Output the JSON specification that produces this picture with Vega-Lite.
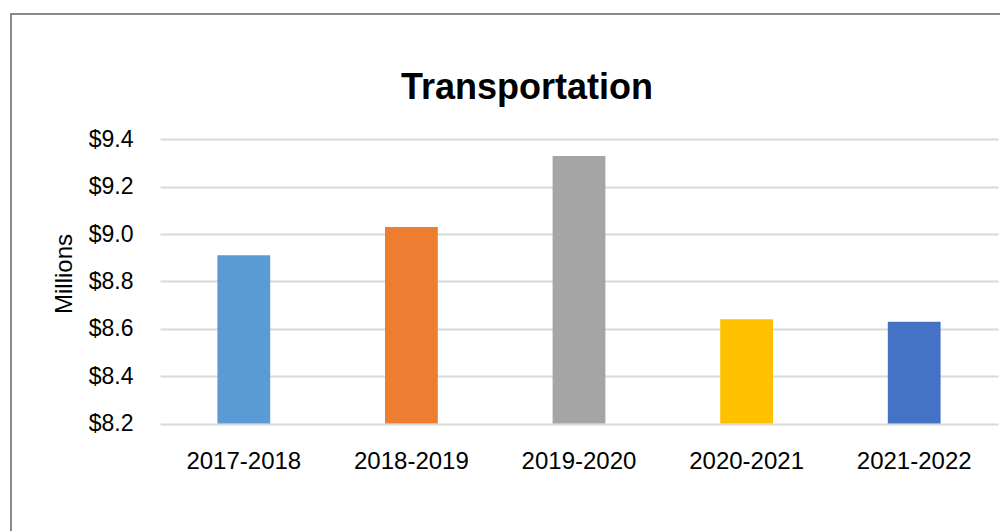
{
  "$schema": "https://vega.github.io/schema/vega-lite/v6.json",
  "width": 1000,
  "height": 530,
  "autosize": {"type": "none"},
  "padding": {"left": 11, "top": 14, "right": 0, "bottom": 0},
  "background": "white",
  "title": {
    "text": "Transportation",
    "font": "Liberation Sans",
    "fontSize": 36,
    "fontWeight": "bold",
    "color": "#000000",
    "anchor": "middle",
    "frame": "group",
    "offset": -121,
    "baseline": "alphabetic",
    "dx": 16
  },
  "data": {
    "values": [
      {"year": "2017-2018", "value": 8.91},
      {"year": "2018-2019", "value": 9.03},
      {"year": "2019-2020", "value": 9.33},
      {"year": "2020-2021", "value": 8.64},
      {"year": "2021-2022", "value": 8.63}
    ]
  },
  "mark": {"type": "bar"},
  "encoding": {
    "x": {
      "field": "year",
      "type": "nominal",
      "sort": null,
      "scale": {"range": [149, 987], "paddingInner": 0.685, "paddingOuter": 0.3425},
      "axis": {
        "title": null,
        "orient": "bottom",
        "offset": -120.5,
        "domain": false,
        "ticks": false,
        "grid": false,
        "labelAngle": 0,
        "labelFont": "Liberation Sans",
        "labelFontSize": 24,
        "labelColor": "#000000",
        "labelPadding": 26
      }
    },
    "y": {
      "field": "value",
      "type": "quantitative",
      "scale": {"domain": [8.2, 9.4], "range": [409.5, 125.3], "nice": false, "zero": false},
      "axis": {
        "title": "Millions",
        "offset": -149,
        "values": [8.2, 8.4, 8.6, 8.8, 9.0, 9.2, 9.4],
        "format": "$.1f",
        "domain": false,
        "ticks": false,
        "grid": true,
        "gridColor": "#d9d9d9",
        "gridWidth": 2,
        "labelFont": "Liberation Sans",
        "labelFontSize": 23,
        "labelColor": "#000000",
        "labelPadding": 27,
        "titleFont": "Liberation Sans",
        "titleFontSize": 24,
        "titleFontWeight": "normal",
        "titleColor": "#000000",
        "titlePadding": 12,
        "titleY": 259.5
      }
    },
    "y2": {"datum": 8.2},
    "color": {
      "field": "year",
      "type": "nominal",
      "sort": null,
      "scale": {"range": ["#5B9BD5", "#ED7D31", "#A5A5A5", "#FFC000", "#4472C4"]},
      "legend": null
    }
  },
  "config": {"view": {"stroke": "#888888", "strokeWidth": 2, "fill": null}}
}
